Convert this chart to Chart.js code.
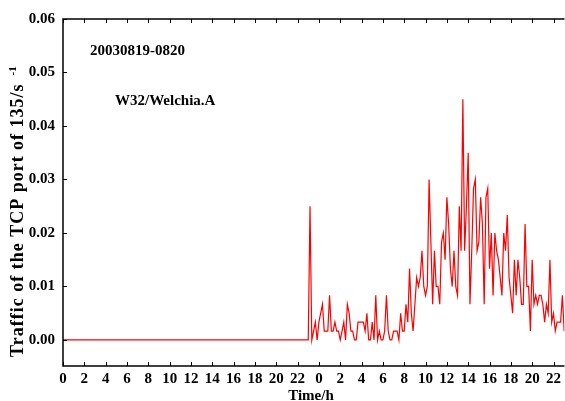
<!DOCTYPE html>
<html>
<head>
<meta charset="utf-8">
<script src="https://cdn.jsdelivr.net/npm/chart.js@4.4.1/dist/chart.umd.min.js"></script>
<style>
  html, body { margin: 0; padding: 0; background: #fff; }
  #c { display: block; }
</style>
</head>
<body>
<canvas id="c" width="565" height="401"></canvas>
<script>
// two days, x in hours (0..47), first day is silent until ~23h
const quietStart = 0;
const quietEnd = 23;
const binMinutes = 10;           // one sample every 10 minutes
const binSeconds = 600;

// packets seen in each 10-minute bin, starting at 23:00 of day one
const binCounts = [
  0, 15, 0, 1, 2, 0, 2, 3, 4, 1, 1, 1, 5, 1, 1, 2, 1, 1, 0, 1,
  2, 0, 4, 3, 1, 1, 0, 0, 2, 2, 2, 2, 1, 3, 0, 0, 2, 0, 5, 0,
  1, 0, 0, 1, 5, 1, 0, 0, 1, 1, 1, 0, 3, 1, 1, 4, 2, 8, 3, 1,
  4, 7, 6, 7, 10, 6, 5, 6, 18, 11, 4, 10, 6, 6, 4, 11, 12, 9, 16, 13,
  8, 6, 10, 6, 5, 15, 10, 27, 10, 15, 21, 4, 10, 17, 18, 10, 11, 16, 13, 4,
  16, 17, 8, 12, 5, 12, 10, 9, 7, 5, 12, 10, 14, 7, 5, 3, 9, 5, 9, 7,
  4, 4, 13, 6, 6, 1, 9, 4, 5, 4, 5, 5, 4, 2, 4, 3, 9, 2, 3, 1,
  2, 2, 2, 5, 1
];

const xTickHours = [0, 2, 4, 6, 8, 10, 12, 14, 16, 18, 20, 22,
                    24, 26, 28, 30, 32, 34, 36, 38, 40, 42, 44, 46];
const xTickLabels = ['0', '2', '4', '6', '8', '10', '12', '14', '16', '18', '20', '22',
                     '0', '2', '4', '6', '8', '10', '12', '14', '16', '18', '20', '22'];
const yTickValues = [0, 0.01, 0.02, 0.03, 0.04, 0.05, 0.06];

const serif = "'Liberation Serif', 'DejaVu Serif', serif";

const points = [{ x: quietStart, y: 0 }];
binCounts.forEach((n, i) => {
    points.push({ x: quietEnd + i * binMinutes / 60, y: n / binSeconds });
});

// frame, inward ticks, axis titles and the two notes
const decorations = {
    id: 'decorations',
    afterDraw(chart) {
        const ctx = chart.ctx;
        const area = chart.chartArea;
        const xs = chart.scales.x;
        const ys = chart.scales.y;
        ctx.save();
        ctx.strokeStyle = '#000';
        ctx.lineWidth = 1.5;
        ctx.beginPath();
        ctx.moveTo(area.right, area.top);
        ctx.lineTo(area.left, area.top);
        ctx.lineTo(area.left, area.bottom);
        ctx.lineTo(area.right, area.bottom);
        ctx.stroke();

        ctx.lineWidth = 1;
        ctx.beginPath();
        xTickHours.forEach(h => {
            const px = Math.round(xs.getPixelForValue(h)) + 0.5;
            ctx.moveTo(px, area.bottom);
            ctx.lineTo(px, area.bottom - 4);
            ctx.moveTo(px, area.top);
            ctx.lineTo(px, area.top + 4);
        });
        yTickValues.forEach(v => {
            const py = Math.round(ys.getPixelForValue(v)) + 0.5;
            ctx.moveTo(area.left, py);
            ctx.lineTo(area.left + 4, py);
        });
        ctx.stroke();

        ctx.fillStyle = '#000';
        ctx.textBaseline = 'middle';
        ctx.font = 'bold 15px ' + serif;
        ctx.textAlign = 'center';
        ctx.fillText('Time/h', (area.left + 565) / 2 - 3, 396);

        ctx.textAlign = 'left';
        ctx.fillText('20030819-0820', 90, 51);
        ctx.fillText('W32/Welchia.A', 115, 101);

        // rotated y title with the superscript -1
        ctx.translate(18, 357);
        ctx.rotate(-Math.PI / 2);
        ctx.font = 'bold 18px ' + serif;
        ctx.letterSpacing = '1px';
        const main = 'Traffic of the TCP port of 135/s';
        ctx.fillText(main, 0, 0);
        const w = ctx.measureText(main).width;
        ctx.font = 'bold 11px ' + serif;
        ctx.letterSpacing = '0px';
        ctx.fillText('-1', w + 8, -5);
        ctx.restore();
    }
};

new Chart(document.getElementById('c'), {
    type: 'line',
    data: {
        datasets: [{
            data: points,
            borderColor: '#ff0000',
            borderWidth: 1.2,
            pointRadius: 0,
            tension: 0,
            fill: false
        }]
    },
    options: {
        responsive: false,
        devicePixelRatio: 1,
        animation: false,
        layout: { padding: { top: 19, right: 0, left: 0, bottom: 0 } },
        plugins: { legend: { display: false }, tooltip: { enabled: false } },
        scales: {
            x: {
                type: 'linear',
                min: 0,
                max: 47.03,
                afterFit: s => { s.height = 35; },
                afterBuildTicks: s => { s.ticks = xTickHours.map(v => ({ value: v })); },
                grid: { display: false, drawTicks: false },
                border: { display: false },
                ticks: {
                    autoSkip: false,
                    maxRotation: 0,
                    padding: 4,
                    color: '#000',
                    font: { family: serif, weight: 'bold', size: 15 },
                    callback: (v) => xTickLabels[xTickHours.indexOf(v)]
                }
            },
            y: {
                min: -0.00487,
                max: 0.06,
                afterFit: s => { s.width = 63; },
                afterBuildTicks: s => { s.ticks = yTickValues.map(v => ({ value: v })); },
                grid: { display: false, drawTicks: false },
                border: { display: false },
                ticks: {
                    padding: 8,
                    color: '#000',
                    font: { family: serif, weight: 'bold', size: 15 },
                    callback: (v) => v.toFixed(2)
                }
            }
        }
    },
    plugins: [decorations]
});
</script>
</body>
</html>
